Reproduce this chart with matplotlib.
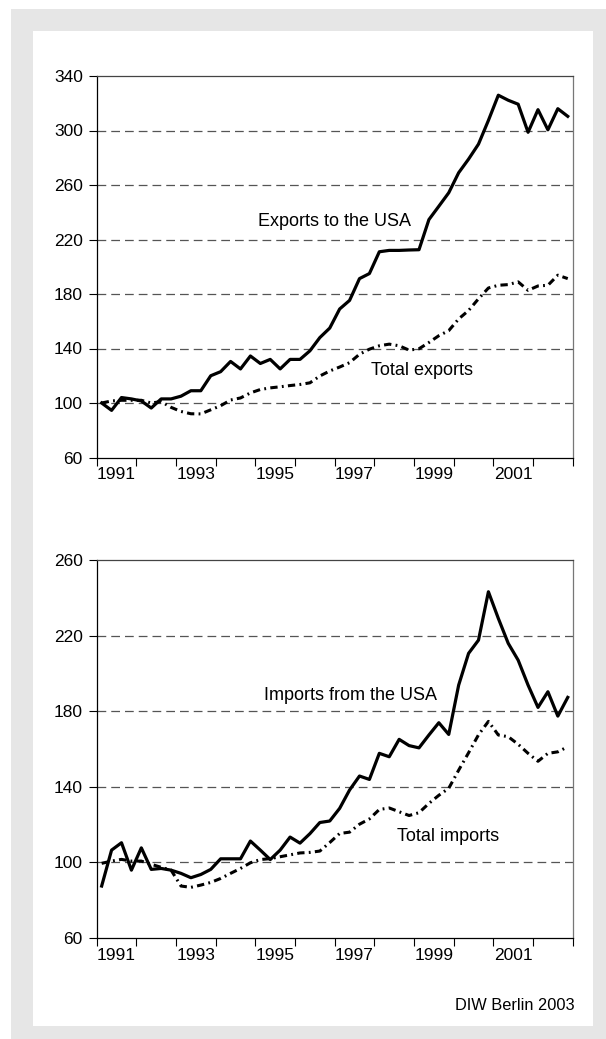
import numpy as np
import matplotlib
matplotlib.use('Agg')
import matplotlib.pyplot as plt
from matplotlib.patches import Rectangle

plt.rcParams['font.family'] = ['Liberation Sans', 'DejaVu Sans']

#%% data: quarterly indices, 1991 Q1 - 2002 Q4
quarters = np.arange(1991, 2003, 0.25) + 0.125

exports_usa = [100, 94.6, 104, 103, 101.5, 96.3, 103, 103, 105, 109, 109, 120,
               123, 130.5, 125, 134.5, 129, 132, 125, 132, 132, 138.3, 148, 155,
               169, 175.3, 191.3, 195, 211, 212, 212, 212.3, 212.5, 234.6, 244.4, 254.3,
               269, 279, 290, 307.4, 325.9, 322.2, 319.3, 298.7, 315.3, 300.5, 316, 310.4]
exports_total = [100, 101.5, 102, 102, 102, 100, 101, 96.8, 93.8, 92.1, 92, 95,
                 98, 102.2, 103.7, 107.4, 109.9, 111.1, 111.9, 112.8, 113.6, 114.8, 119.8, 123.5,
                 126.4, 129.6, 135.8, 139.5, 142, 143.2, 142, 138.8, 139.8, 144.4, 149.4, 153.1,
                 161.7, 167.9, 176.5, 184.4, 186.4, 186.9, 188.9, 182.7, 185.9, 186.4, 193.8, 191.3]
imports_usa = [87.5, 106.5, 110.4, 95.9, 107.7, 96.3, 96.8, 95.9, 94.2, 91.9, 93.6, 96.3,
               101.9, 101.9, 101.9, 111.3, 106.5, 101.5, 106.5, 113.4, 110.2, 115.2, 121.1, 121.9,
               128.6, 138.3, 145.7, 143.9, 157.7, 155.9, 165.1, 161.8, 160.6, 167.4, 173.9, 167.7,
               193.8, 210.6, 217.6, 243.2, 229.1, 215.9, 207, 193.8, 182, 190.3, 177.4, 187.3]
imports_total = [99.5, 100.7, 101.6, 100.7, 100.7, 99, 97.4, 95.9, 87.5, 86.8, 88, 89.4,
                 91.5, 94.2, 96.8, 99.8, 101.5, 102, 103, 104, 105, 105.3, 106, 110.5,
                 115.3, 116, 120.2, 123, 128, 128.8, 126.8, 124.8, 126.3, 131.2, 135.5, 139.2,
                 148.8, 158, 167.5, 174.6, 167.4, 166.5, 162.5, 157.7, 153.5, 157.7, 158.5, 161.2]

year_ticks = np.arange(1991, 2004)
year_labels = ['1991', '1993', '1995', '1997', '1999', '2001']
label_pos = [int(y) + 0.5 for y in year_labels]

#%% figure
fig = plt.figure(figsize=(6.06, 10.39), dpi=100)
fig.patches.append(Rectangle((11/606, 0), 1, 1 - 9/1039, transform=fig.transFigure,
                             facecolor='#e6e6e6', edgecolor='none', zorder=-10))
fig.patches.append(Rectangle((33/606, 1 - 1026/1039), (593 - 33)/606, (1026 - 31)/1039,
                             transform=fig.transFigure, facecolor='white', edgecolor='none', zorder=-9))

ax1 = fig.add_axes([96.7/606, 1 - 457.5/1039, 476/606, 381.5/1039])
ax2 = fig.add_axes([96.7/606, 1 - 938/1039, 476/606, 378/1039])


def style_axis(ax, yticks):
    ax.set_xlim(1991, 2003)
    ax.set_ylim(yticks[0], yticks[-1])
    ax.set_yticks(yticks)
    ax.set_xticks(year_ticks)
    ax.set_xticklabels([])
    ax.set_xticks(label_pos, minor=True)
    ax.set_xticklabels(year_labels, minor=True)
    ax.tick_params(axis='x', which='major', direction='out', length=6, width=0.8)
    ax.tick_params(axis='x', which='minor', length=0, pad=7, labelsize=12.5)
    ax.tick_params(axis='y', direction='out', length=6, width=0.8, pad=4, labelsize=12.5)
    for yv in yticks[1:-1]:
        ax.axhline(yv, color='#555555', lw=0.9, dashes=(7, 4), zorder=1)
    ax.spines['left'].set_color('black')
    ax.spines['bottom'].set_color('black')
    ax.spines['top'].set_color('#444444')
    ax.spines['right'].set_color('#777777')
    for s in ax.spines.values():
        s.set_linewidth(0.9)
    ax.set_facecolor('white')


style_axis(ax1, [60, 100, 140, 180, 220, 260, 300, 340])
ax1.plot(quarters, exports_usa, color='black', lw=2.3, zorder=3)
ax1.plot(quarters, exports_total, color='black', lw=2.2, dashes=[2.4, 1.4, 0.6, 1.4],
         dash_capstyle='butt', zorder=3)
ax1.text(1997.0, 233.3, 'Exports to the USA', ha='center', va='center', fontsize=13)
ax1.text(1999.19, 123.5, 'Total exports', ha='center', va='center', fontsize=13)

style_axis(ax2, [60, 100, 140, 180, 220, 260])
ax2.plot(quarters, imports_usa, color='black', lw=2.3, zorder=3)
ax2.plot(quarters, imports_total, color='black', lw=2.2, dashes=[2.4, 1.4, 0.6, 1.4],
         dash_capstyle='butt', zorder=3)
ax2.text(1997.4, 188.5, 'Imports from the USA', ha='center', va='center', fontsize=13)
ax2.text(1999.86, 113.5, 'Total imports', ha='center', va='center', fontsize=13)

fig.text(575/606, 1 - 1005/1039, 'DIW Berlin 2003', ha='right', va='center', fontsize=11.8)

plt.savefig('out.png', dpi=100)
